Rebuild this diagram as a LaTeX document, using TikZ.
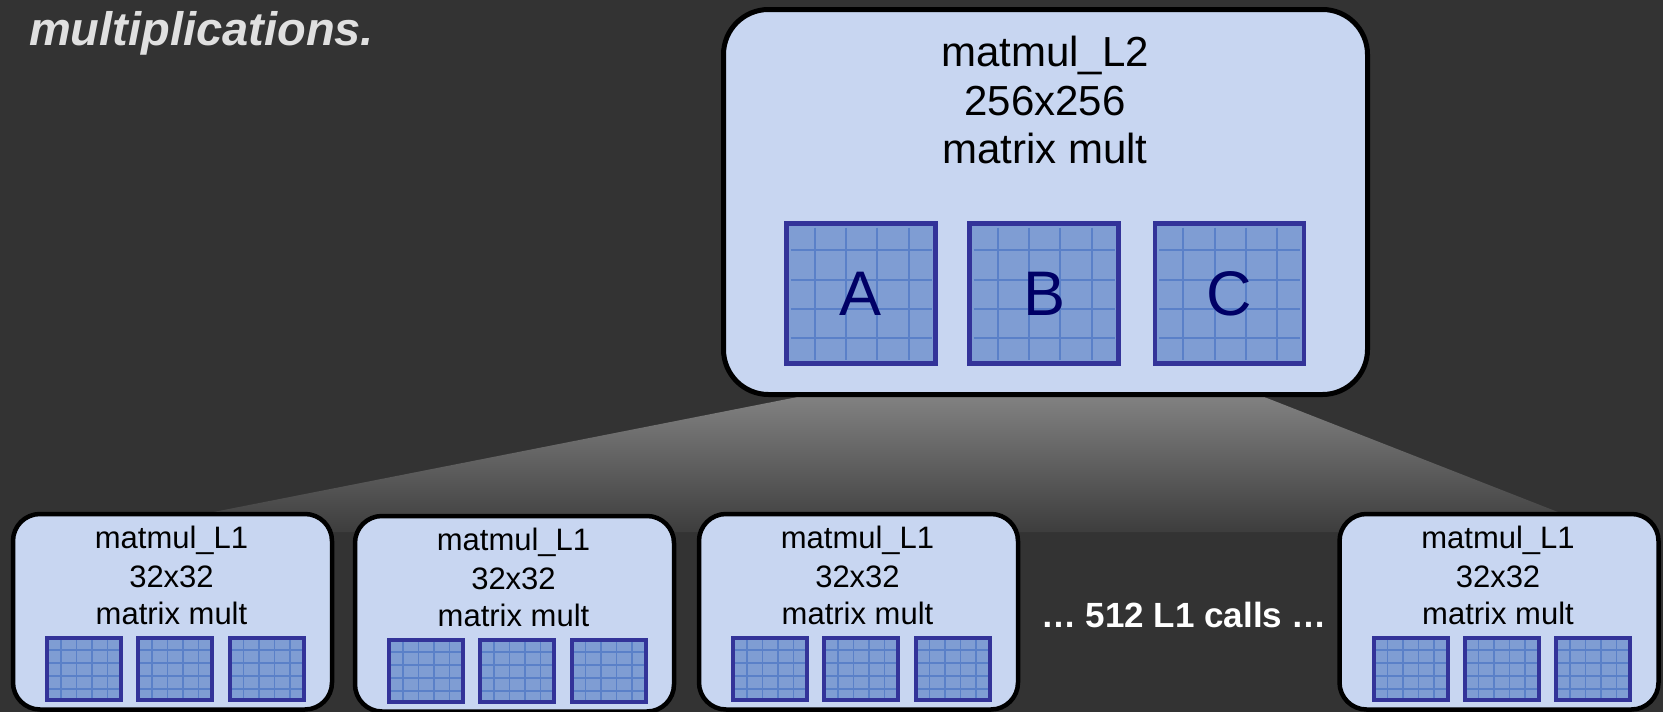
\documentclass[tikz,border=0pt]{standalone}
\usepackage{fontspec}
\setmainfont{Liberation Sans}
\usetikzlibrary{calc}
\definecolor{bg}{HTML}{333333}
\definecolor{boxfill}{HTML}{C8D6F1}
\definecolor{matfill}{HTML}{7F9DD3}
\definecolor{matborder}{HTML}{333399}
\definecolor{gridc}{HTML}{5A80C8}
\definecolor{lettercol}{HTML}{000066}
\definecolor{titlecol}{HTML}{E0E0E0}
\definecolor{shtop}{HTML}{838383}
\definecolor{shbot}{HTML}{3D3D3D}
\tikzset{
  grid lines/.style 2 args={path picture={
    \foreach \f in {0.19,0.40,0.61,0.82}{
      \draw[gridc, line width=#1]
        ($(path picture bounding box.north west)!\f!(path picture bounding box.north east)+(0,#2)$) --
        ($(path picture bounding box.south west)!\f!(path picture bounding box.south east)+(0,-#2)$);
      \draw[gridc, line width=#1]
        ($(path picture bounding box.north west)!\f!(path picture bounding box.south west)+(#2,0)$) --
        ($(path picture bounding box.north east)!\f!(path picture bounding box.south east)+(-#2,0)$);
    }}},
  bigbox/.style={draw=black, line width=5pt, fill=boxfill, rounded corners=45pt,
    minimum width=644pt, minimum height=385pt, inner sep=0pt},
  smallbox/.style={draw=black, line width=4.5pt, fill=boxfill, rounded corners=27pt,
    minimum width=319pt, minimum height=195.5pt, inner sep=0pt},
  bigmat/.style={draw=matborder, line width=4.5pt, fill=matfill, minimum width=149pt,
    minimum height=140pt, inner sep=0pt, grid lines={2pt}{4},
    text=lettercol, font=\fontsize{63}{63}\selectfont},
  smallmat/.style={draw=matborder, line width=4pt, fill=matfill, minimum width=74pt,
    minimum height=62pt, inner sep=0pt, grid lines={1.5pt}{2}},
  bigtxt/.style={font=\fontsize{42}{48}\selectfont, text=black, inner sep=0pt, anchor=base},
  smalltxt/.style={font=\fontsize{31}{36}\selectfont, text=black, inner sep=0pt, anchor=base},
}
\begin{document}
\begin{tikzpicture}[x=1pt, y=-1pt]
\useasboundingbox (0,0) rectangle (1663,712);
\fill[bg] (0,0) rectangle (1663,712);

% title fragment
\node[anchor=base west, inner sep=0pt, text=titlecol, font=\fontsize{47}{50}\selectfont\bfseries\itshape] (title) at (29,45) {multiplications.};

% fan-out shading
\coordinate (ftl) at (818,393);
\coordinate (ftr) at (1254,393);
\coordinate (fbr) at (1609,532);
\coordinate (fbl) at (112,532);
\shade[top color=shtop, bottom color=shbot] (ftl) -- (ftr) -- (fbr) -- (fbl) -- cycle;

% big box
\node[bigbox] (L2) at (1045.5,202) {};
\node[bigtxt] (L2a) at (1045,66.7) {matmul\_L2};
\node[bigtxt] (L2b) at (1045,115) {256x256};
\node[bigtxt] (L2c) at (1045,163) {matrix mult};
\node[bigmat] (A) at (861,293.5) {A};
\node[bigmat] (B) at (1044,293.5) {B};
\node[bigmat] (C) at (1229.5,293.5) {C};

% small boxes
\foreach \i/\cx/\dy in {1/172.5/0, 2/514.5/2, 3/858.5/0, 4/1499/0}{
  \node[smallbox] (S\i) at (\cx,611.75+\dy) {};
  \node[smalltxt] (S\i a) at (\cx-1,548+\dy) {matmul\_L1};
  \node[smalltxt] (S\i b) at (\cx-1,587+\dy) {32x32};
  \node[smalltxt] (S\i c) at (\cx-1,624+\dy) {matrix mult};
  \node[smallmat] (S\i m1) at (\cx-88.5,669+\dy) {};
  \node[smallmat] (S\i m2) at (\cx+2.5,669+\dy) {};
  \node[smallmat] (S\i m3) at (\cx+94,669+\dy) {};
}

\node[anchor=base, inner sep=0pt, text=white, font=\fontsize{35}{40}\selectfont\bfseries] (calls) at (1184,627) {… 512 L1 calls …};
\end{tikzpicture}
\end{document}
